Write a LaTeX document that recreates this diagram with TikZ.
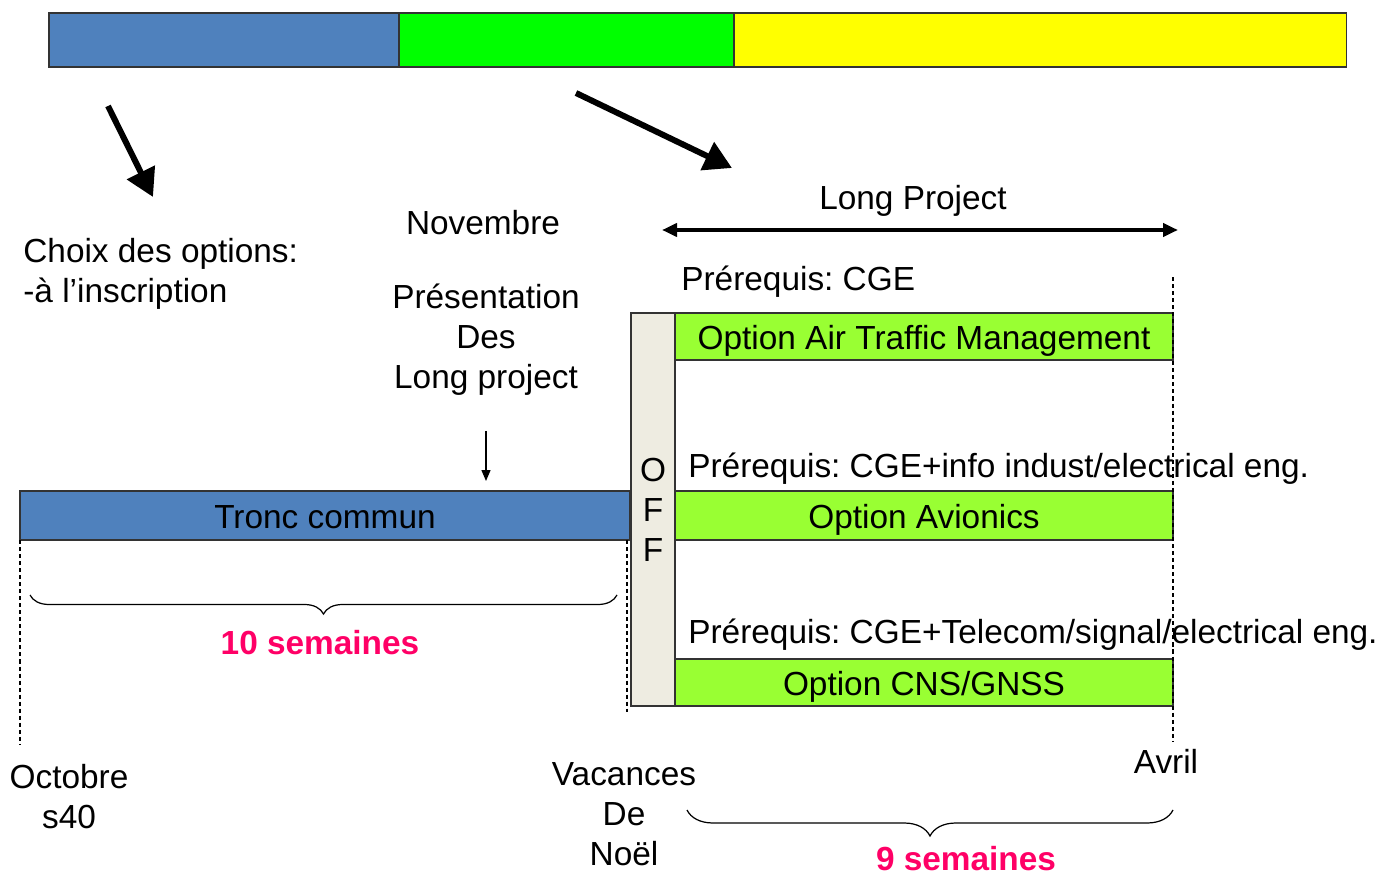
\documentclass[tikz,border=0pt]{standalone}
\usepackage{fontspec}
\setmainfont{Liberation Sans}
\frenchspacing
\usetikzlibrary{arrows.meta,positioning,decorations.pathreplacing}

\definecolor{phaseblue}{HTML}{4F81BD}
\definecolor{phasegreen}{HTML}{00FF00}
\definecolor{phaseyellow}{HTML}{FFFF00}
\definecolor{optgreen}{HTML}{99FF33}
\definecolor{offbeige}{HTML}{EEECE1}
\definecolor{weekpink}{HTML}{FF0066}

\begin{document}
\begin{tikzpicture}[
    x=0.02cm, y=-0.02cm,
    every node/.style={font=\fontsize{19}{22.7}\selectfont},
    barseg/.style={
        rectangle,
        draw=black!80,
        line width=0.8pt,
        minimum height=1.08cm,
        inner sep=0pt,
        outer sep=0pt
    },
    optbox/.style={
        barseg,
        fill=optgreen,
        minimum width=9.96cm,
        text height=15pt,
        text depth=0pt
    },
    txt/.style={inner sep=0pt, align=center},
    weeks/.style={txt, text=weekpink, font=\fontsize{19}{22.7}\selectfont\bfseries},
    bigarrow/.style={draw, line width=3.4pt, -{Triangle[length=0.55cm,width=0.6cm]}},
    spanarrow/.style={draw, line width=2.2pt, {Triangle[length=0.3cm,width=0.26cm]}-{Triangle[length=0.3cm,width=0.26cm]}},
    line/.style={draw, line width=0.8pt, -{Triangle[length=0.22cm,width=0.18cm]}},
    guide/.style={draw, line width=0.8pt, dash pattern=on 2.3pt off 1.7pt},
    weekbrace/.style={draw, line width=0.7pt, decorate, decoration={brace, mirror, amplitude=#1}}
]
\useasboundingbox (0,0) rectangle (1383,875);

% Top phase bar
\node [barseg, fill=phaseblue, minimum width=7cm] (topblue) at (224,40) {};
\node [barseg, fill=phasegreen, minimum width=6.7cm, right=0pt of topblue] (topgreen) {};
\node [barseg, fill=phaseyellow, minimum width=12.26cm, right=0pt of topgreen] (topyellow) {};

% Thick arrows out of the bar
\coordinate (choixfrom) at (108,106);
\coordinate (choixto) at (153,197);
\coordinate (projfrom) at (576,93);
\coordinate (projto) at (732,168);
\draw [bigarrow] (choixfrom) -- (choixto);
\draw [bigarrow] (projfrom) -- (projto);

% Texts on the left
\node [txt, anchor=west, align=left] (choix) at (23,274) {Choix des options:\\-à l’inscription};
\node [txt] (novembre) at (483,223) {Novembre};
\node [txt] (pres) at (486,340) {Présentation\\Des\\Long project};

% Tronc commun and OFF column
\node [barseg, fill=phaseblue, minimum width=12.2cm, minimum height=0.98cm, text height=15pt, text depth=0pt] (tronc) at (325,515.5) {Tronc commun};
\node [barseg, fill=offbeige, minimum width=0.88cm, minimum height=7.86cm, align=center] (off) at (653,509.5) {O\\F\\F};
\draw [line, shorten <=0.7cm, shorten >=0.2cm] (pres.south) -- (pres.south |- tronc.north);

% Long project span
\node [txt] (longtxt) at (913,201) {Long Project};
\coordinate (spanleft) at (662,230);
\coordinate (spanright) at (1178,230);
\draw [spanarrow] (spanleft) -- (spanright);

% Options
\node [txt, anchor=west] (preq1) at (681,282) {Prérequis: CGE};
\node [optbox, minimum height=0.94cm] (atm) at (924,336.5) {Option Air Traffic Management};
\node [txt, anchor=west] (preq2) at (688,469) {Prérequis: CGE+info indust/electrical eng.};
\node [optbox, minimum height=0.98cm] (avionics) at (924,515.5) {Option Avionics};
\node [txt, anchor=west] (preq3) at (688,635) {Prérequis: CGE+Telecom/signal/electrical eng.};
\node [optbox, minimum height=0.94cm] (cns) at (924,682.5) {Option CNS/GNSS};

% Dashed guides
\draw [guide] (tronc.south west) -- ++(0,205);
\draw [guide] ([xshift=-0.06cm]tronc.south east) -- ++(0,172);
\draw [guide] ([yshift=0.72cm]atm.north east) -- ([yshift=-0.7cm]cns.south east);

% Durations
\draw [weekbrace=0.38cm] (30,595) -- (617,595);
\node [weeks] (sem10) at (320,643) {10 semaines};
\draw [weekbrace=0.52cm] (687,810) -- (1173,810);
\node [weeks] (sem9) at (966,859) {9 semaines};

% Dates
\node [txt] (octobre) at (69,797) {Octobre\\s40};
\node [txt] (vacances) at (624,814) {Vacances\\De\\Noël};
\node [txt] (avril) at (1166,761) {Avril};

\end{tikzpicture}
\end{document}
